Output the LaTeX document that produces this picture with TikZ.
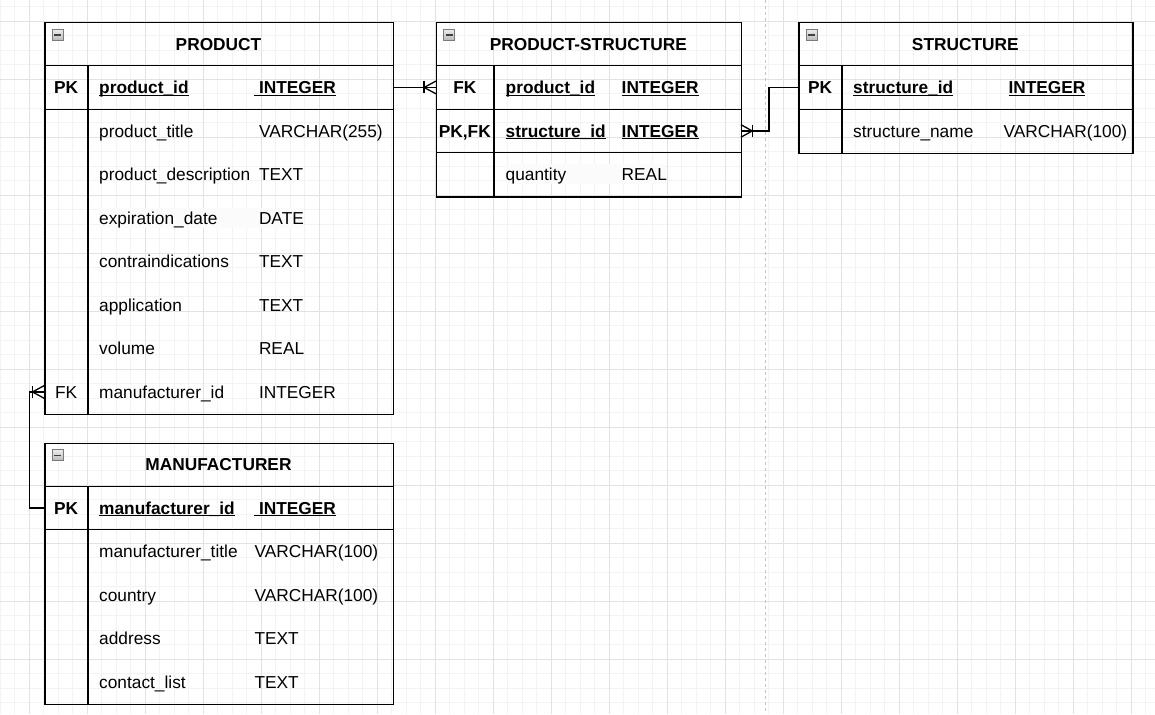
\documentclass[tikz,border=0pt]{standalone}
\usepackage{fontspec}
\setmainfont{Liberation Sans}
\usetikzlibrary{calc}
\definecolor{minorgrid}{HTML}{F3F3F3}
\definecolor{majorgrid}{HTML}{E2E2E2}
\definecolor{pagebreak}{HTML}{C4C4C4}
\definecolor{iconfill}{HTML}{B8B8B8}
\definecolor{iconborder}{HTML}{7A7A7A}
\newcommand\myul[1]{\setbox0\hbox{#1}\rlap{\rule[-2.3pt]{\wd0}{1.3pt}}\box0}
\tikzset{
  tbl/.style={draw=black, line width=1.3pt, anchor=north west, inner sep=0pt, minimum height=#1},
  sep/.style={draw=black, line width=1.3pt},
  keysep/.style={draw=black, line width=2pt},
  rowbox/.style={inner sep=0pt, minimum height=43.5pt},
  txt/.style={anchor=base west, inner sep=0pt, font=\fontsize{17.3}{20}\selectfont},
  btxt/.style={anchor=base west, inner sep=0pt, font=\fontsize{17.3}{20}\selectfont\bfseries},
  keytxt/.style={anchor=base, inner sep=0pt, font=\fontsize{17.3}{20}\selectfont\bfseries},
  keytxtn/.style={anchor=base, inner sep=0pt, font=\fontsize{17.3}{20}\selectfont},
  title/.style={anchor=base, inner sep=0pt, font=\fontsize{17.3}{20}\selectfont\bfseries},
  icon/.style={draw=iconborder, line width=0.8pt, top color=gray!15, bottom color=gray!55, minimum size=11pt, inner sep=0pt, anchor=north west},
  conn/.style={draw=black, line width=1.3pt},
  fade/.style={fill=white!97!gray, draw=none},
}
\newcommand\minusicon[2]{%
  \node[icon] (#2) at (#1) {};
  \draw[line width=1.6pt, black!75] ($(#2.west)+(2.4,0)$) -- ($(#2.east)+(-2.4,0)$);}
\begin{document}
\begin{tikzpicture}[x=1pt,y=-1pt]
\useasboundingbox (0,0) rectangle (1155,714);
\fill[white] (0,0) rectangle (1155,714);
% grid
\foreach \i [evaluate=\i as \x using 0.3+14.5*\i] in {0,...,79}
  \draw[minorgrid, line width=0.8pt] (\x,0) -- (\x,714);
\foreach \j [evaluate=\j as \y using 6.8+14.5*\j] in {0,...,48}
  \draw[minorgrid, line width=0.8pt] (0,\y) -- (1155,\y);
\foreach \i [evaluate=\i as \x using 29.3+58*\i] in {0,...,19}
  \draw[majorgrid, line width=0.9pt] (\x,0) -- (\x,714);
\foreach \j [evaluate=\j as \y using 21.3+58*\j] in {0,...,11}
  \draw[majorgrid, line width=0.9pt] (0,\y) -- (1155,\y);
\draw[pagebreak, line width=0.9pt, dash pattern=on 3pt off 3pt] (765.3,0) -- (765.3,714);

% ---------------- PRODUCT ----------------
\fill[fade] (99.3,207.7) rectangle (303.3,227.5);
\node[tbl=391.5pt, minimum width=348.4pt] (product) at (44.3,22.2) {};
\draw[sep] (44.3,65.7) -- (392.7,65.7);
\draw[sep] (44.3,109.2) -- (392.7,109.2);
\draw[keysep] (88,65.7) -- (88,413.7);
\minusicon{51.7,28.9}{pico}
\node[title] (ptitle) at (218.5,50.1) {PRODUCT};
\node[rowbox, minimum width=348.4pt] (p-pk) at (218.5,87.45) {};
\node[rowbox, minimum width=348.4pt] (p-fk) at (218.5,391.95) {};
\node[keytxt] (p-k1) at (66.2,93.55) {PK};
\node[btxt] (p-n1) at (99,93.55) {\myul{product\_id}};
\node[btxt] (p-t1) at (254,93.55) {\myul{\ INTEGER}};
\node[txt] (p-n2) at (99,137.05) {product\_title};
\node[txt] (p-t2) at (258.8,137.05) {VARCHAR(255)};
\node[txt] (p-n3) at (99,180.55) {product\_description};
\node[txt] (p-t3) at (258.8,180.55) {TEXT};
\node[txt] (p-n4) at (99,224.05) {expiration\_date};
\node[txt] (p-t4) at (258.8,224.05) {DATE};
\node[txt] (p-n5) at (99,267.55) {contraindications};
\node[txt] (p-t5) at (258.8,267.55) {TEXT};
\node[txt] (p-n6) at (99,311.05) {application};
\node[txt] (p-t6) at (258.8,311.05) {TEXT};
\node[txt] (p-n7) at (99,354.55) {volume};
\node[txt] (p-t7) at (258.8,354.55) {REAL};
\node[keytxtn] (p-k8) at (66.2,398.05) {FK};
\node[txt] (p-n8) at (99,398.05) {manufacturer\_id};
\node[txt] (p-t8) at (258.8,398.05) {INTEGER};

% ---------------- MANUFACTURER ----------------
\node[tbl=261pt, minimum width=348.4pt] (manuf) at (44.3,442.7) {};
\draw[sep] (44.3,486.2) -- (392.7,486.2);
\draw[sep] (44.3,529.7) -- (392.7,529.7);
\draw[keysep] (88,486.2) -- (88,703.7);
\minusicon{51.7,449.4}{mico}
\node[title] (mtitle) at (218.5,470.6) {MANUFACTURER};
\node[rowbox, minimum width=348.4pt] (m-pk) at (218.5,507.95) {};
\node[keytxt] (m-k1) at (66.2,514.05) {PK};
\node[btxt] (m-n1) at (99,514.05) {\myul{manufacturer\_id}};
\node[btxt] (m-t1) at (254,514.05) {\myul{\ INTEGER}};
\node[txt] (m-n2) at (99,557.55) {manufacturer\_title};
\node[txt] (m-t2) at (254.3,557.55) {VARCHAR(100)};
\node[txt] (m-n3) at (99,601.05) {country};
\node[txt] (m-t3) at (254.3,601.05) {VARCHAR(100)};
\node[txt] (m-n4) at (99,644.55) {address};
\node[txt] (m-t4) at (254.3,644.55) {TEXT};
\node[txt] (m-n5) at (99,688.05) {contact\_list};
\node[txt] (m-t5) at (254.3,688.05) {TEXT};

% ---------------- PRODUCT-STRUCTURE ----------------
\fill[fade] (506,164) rectangle (666,184);
\node[tbl=174pt, minimum width=304.7pt] (ps) at (436,22.2) {};
\draw[sep] (436,65.7) -- (740.7,65.7);
\draw[sep] (436,109.2) -- (740.7,109.2);
\draw[sep] (436,152.7) -- (740.7,152.7);
\draw[keysep] (493.7,65.7) -- (493.7,196.2);
\minusicon{443.4,28.9}{psico}
\node[title] (pstitle) at (588.35,50.1) {PRODUCT-STRUCTURE};
\node[rowbox, minimum width=304.7pt] (ps-fk) at (588.35,87.45) {};
\node[rowbox, minimum width=304.7pt] (ps-r2) at (588.35,130.95) {};
\node[keytxt] (ps-k1) at (464.85,93.55) {FK};
\node[btxt] (ps-n1) at (505.5,93.55) {\myul{product\_id}};
\node[btxt] (ps-t1) at (621.5,93.55) {\myul{INTEGER}};
\node[keytxt] (ps-k2) at (464.85,137.05) {PK,FK};
\node[btxt] (ps-n2) at (505.5,137.05) {\myul{structure\_id}};
\node[btxt] (ps-t2) at (621.5,137.05) {\myul{INTEGER}};
\node[txt] (ps-n3) at (505.5,180.55) {quantity};
\node[txt] (ps-t3) at (621.5,180.55) {REAL};

% ---------------- STRUCTURE ----------------
\node[tbl=130.5pt, minimum width=334pt] (struct) at (798.3,22.2) {};
\draw[sep] (798.3,65.7) -- (1132.3,65.7);
\draw[sep] (798.3,109.2) -- (1132.3,109.2);
\draw[keysep] (842,65.7) -- (842,152.7);
\minusicon{805.7,28.9}{sico}
\node[title] (stitle) at (965.3,50.1) {STRUCTURE};
\node[rowbox, minimum width=334pt] (s-pk) at (965.3,87.45) {};
\node[keytxt] (s-k1) at (820.15,93.55) {PK};
\node[btxt] (s-n1) at (853,93.55) {\myul{structure\_id}};
\node[btxt] (s-t1) at (1008.3,93.55) {\myul{INTEGER}};
\node[txt] (s-n2) at (853,137.05) {structure\_name};
\node[txt] (s-t2) at (1003.3,137.05) {VARCHAR(100)};

% ---------------- connectors ----------------
% PRODUCT -> PRODUCT-STRUCTURE
\draw[conn] (p-pk.east) -- (ps-fk.west);
\draw[conn] ($(ps-fk.west)+(-11.7,-6)$) -- ($(ps-fk.west)+(-11.7,6)$);
\draw[conn] ($(ps-fk.west)+(0,-6.3)$) -- ($(ps-fk.west)+(-11.7,0)$) -- ($(ps-fk.west)+(0,6.3)$);
% STRUCTURE -> PRODUCT-STRUCTURE
\draw[conn] (s-pk.west) -- ++(-29,0) |- (ps-r2.east);
\draw[conn] ($(ps-r2.east)+(11.3,-6)$) -- ($(ps-r2.east)+(11.3,6)$);
\draw[conn] ($(ps-r2.east)+(0,-6.3)$) -- ($(ps-r2.east)+(11.3,0)$) -- ($(ps-r2.east)+(0,6.3)$);
% MANUFACTURER -> PRODUCT
\draw[conn] (m-pk.west) -- ++(-14.3,0) |- (p-fk.west);
\draw[conn] ($(p-fk.west)+(-11.6,-6)$) -- ($(p-fk.west)+(-11.6,6)$);
\draw[conn] ($(p-fk.west)+(0,-6.3)$) -- ($(p-fk.west)+(-11.6,0)$) -- ($(p-fk.west)+(0,6.3)$);
\end{tikzpicture}
\end{document}
